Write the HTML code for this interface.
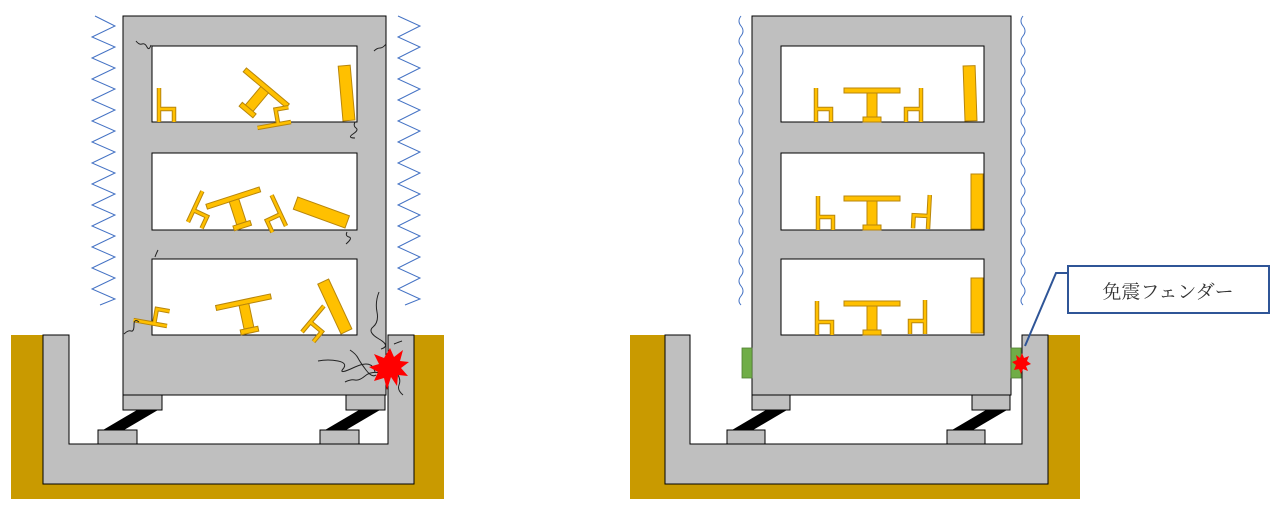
<!DOCTYPE html>
<html><head><meta charset="utf-8"><style>
html,body{margin:0;padding:0;background:#fff;width:1280px;height:508px;overflow:hidden}
svg{display:block}
</style></head><body>
<svg width="1280" height="508" viewBox="0 0 1280 508" xmlns="http://www.w3.org/2000/svg">
<defs>
 <g id="table">
  <rect x="-28" y="-34" width="56" height="5" fill="#FFC000" stroke="#B8860B" stroke-width="1"/>
  <rect x="-5" y="-29" width="10" height="24" fill="#FFC000" stroke="#B8860B" stroke-width="1"/>
  <rect x="-9" y="-5" width="18" height="5" fill="#FFC000" stroke="#B8860B" stroke-width="1"/>
 </g>
 <g id="chair">
  <path d="M0,-34 L0,0 M0,-13 L15,-13 L15,0" fill="none" stroke="#B8860B" stroke-width="4.5"/>
  <path d="M0,-34 L0,0 M0,-13 L15,-13 L15,0" fill="none" stroke="#FFC000" stroke-width="2.5"/>
 </g>
 <g id="cab">
  <rect x="0" y="-55" width="12" height="55" fill="#FFC000" stroke="#B8860B" stroke-width="1"/>
 </g>
</defs>

<!-- LEFT -->
<rect x="11" y="335" width="433" height="164" fill="#C99A00"/>
<rect x="69" y="335" width="319" height="109" fill="#fff"/>
<path d="M43,335 H69 V444 H388 V335 H414 V484 H43 Z" fill="#BFBFBF" stroke="#000" stroke-width="1"/>
<path d="M123,16 H386 V395 H123 Z M152,46 V122 H357 V46 Z M152,153 V230 H357 V153 Z M152,259 V335 H357 V259 Z" fill="#BFBFBF" fill-rule="evenodd" stroke="#000" stroke-width="1"/>
<rect x="123" y="395" width="39" height="15" fill="#BFBFBF" stroke="#000"/>
<rect x="346" y="395" width="39" height="15" fill="#BFBFBF" stroke="#000"/>
<rect x="98" y="430" width="39" height="14" fill="#BFBFBF" stroke="#000"/>
<rect x="320" y="430" width="39" height="14" fill="#BFBFBF" stroke="#000"/>
<polygon points="103,430 124,430 158,410 137,410" fill="#000"/>
<polygon points="325,430 346,430 380,410 359,410" fill="#000"/>
<polyline fill="none" stroke="#4472C4" stroke-width="1" points="95,16 115,26 92,37 115,47 92,58 115,68 92,79 115,89 92,100 115,110 92,121 115,131 92,142 115,152 92,163 115,173 92,184 115,194 92,205 115,215 92,226 115,236 92,247 115,257 92,268 115,278 92,289 115,299 100,305"/>
<polyline fill="none" stroke="#4472C4" stroke-width="1" points="398,16 420,26 398,37 420,47 398,58 420,68 398,79 420,89 398,100 420,110 398,121 420,131 398,142 420,152 398,163 420,173 398,184 420,194 398,205 420,215 398,226 420,236 398,247 420,257 398,268 420,278 398,289 420,299 405,305"/>
<!-- left furniture -->
<use href="#chair" x="159" y="122"/>
<use href="#table" transform="translate(246,112) rotate(40)"/>
<use href="#chair" transform="translate(291,122) rotate(-100)"/>
<use href="#cab" transform="translate(343,121) rotate(-5)"/>
<use href="#chair" transform="translate(188,222) rotate(25)"/>
<use href="#table" transform="translate(243,228) rotate(-18)"/>
<use href="#chair" transform="translate(286,226) rotate(-25) scale(-1,1)"/>
<rect x="0" y="-55" width="13" height="55" fill="#FFC000" stroke="#B8860B" transform="translate(345,228) rotate(-70)"/>
<use href="#chair" transform="translate(167,326) rotate(-80)"/>
<use href="#table" transform="translate(250,333) rotate(-12)"/>
<use href="#chair" transform="translate(302,332) rotate(40)"/>
<use href="#cab" transform="translate(341,334) rotate(-25)"/>
<!-- cracks -->
<g fill="none" stroke="#222" stroke-width="1">
<path d="M136,41 q3,4 6,3 t5,3 t4,-2"/>
<path d="M374,51 q3,-3 6,-3 t6,-4"/>
<path d="M355,122 q-2,4 1,6 t-3,6 t2,4"/>
<path d="M347,232 q-2,4 2,5 t-3,7"/>
<path d="M158,250 q-2,4 -3,7"/>
<path d="M124,334 q4,-4 7,-3 t3,-6 t5,-3"/>
<path d="M379,292 q-4,10 -2,20 t-4,15 t6,12 t2,10"/>
<path d="M318,361 q10,-2 20,0 t5,8 t12,-2 t20,5"/>
<path d="M350,350 q6,4 8,8 t8,12 t10,5"/>
<path d="M345,382 q6,-3 10,-2 t10,-4 t15,-3"/>
<path d="M394,344 q5,-2 8,-3"/>
<path d="M398,375 q3,5 1,10 t4,10"/>
</g>
<polygon fill="#FF0000" points="390,348 394,357 403,350 400,361 409,362 401,368 408,376 398,375 397,386 391,377 387,390 384,378 374,381 378,372 369,367 379,364 374,354 384,358" />

<!-- RIGHT -->
<rect x="630" y="335" width="450" height="164" fill="#C99A00"/>
<rect x="690" y="335" width="332" height="109" fill="#fff"/>
<path d="M665,335 H690 V444 H1022 V335 H1048 V484 H665 Z" fill="#BFBFBF" stroke="#000" stroke-width="1"/>
<path d="M752,16 H1011 V395 H752 Z M781,46 V122 H984 V46 Z M781,153 V230 H984 V153 Z M781,259 V335 H984 V259 Z" fill="#BFBFBF" fill-rule="evenodd" stroke="#000" stroke-width="1"/>
<rect x="752" y="395" width="38" height="15" fill="#BFBFBF" stroke="#000"/>
<rect x="972" y="395" width="38" height="15" fill="#BFBFBF" stroke="#000"/>
<rect x="727" y="430" width="38" height="14" fill="#BFBFBF" stroke="#000"/>
<rect x="947" y="430" width="38" height="14" fill="#BFBFBF" stroke="#000"/>
<polygon points="732,430 753,430 787,410 766,410" fill="#000"/>
<polygon points="952,430 973,430 1007,410 986,410" fill="#000"/>
<rect x="742" y="348" width="10" height="30" fill="#70AD47" stroke="#507E32" stroke-width="0.8"/>
<rect x="1011" y="348" width="10" height="30" fill="#70AD47" stroke="#507E32" stroke-width="0.8"/>
<path fill="none" stroke="#4472C4" stroke-width="1" d="M741,16 q-4,5 0,10 q4,5 0,10 q-4,5 0,10 q4,5 0,10 q-4,5 0,10 q4,5 0,10 q-4,5 0,10 q4,5 0,10 q-4,5 0,10 q4,5 0,10 q-4,5 0,10 q4,5 0,10 q-4,5 0,10 q4,5 0,10 q-4,5 0,10 q4,5 0,10 q-4,5 0,10 q4,5 0,10 q-4,5 0,10 q4,5 0,10 q-4,5 0,10 q4,5 0,10 q-4,5 0,10 q4,5 0,10 q-4,5 0,10 q4,5 0,10 q-4,5 0,10 q4,5 0,10 q-4,5 0,9"/>
<path fill="none" stroke="#4472C4" stroke-width="1" d="M1023,16 q-4,5 0,10 q4,5 0,10 q-4,5 0,10 q4,5 0,10 q-4,5 0,10 q4,5 0,10 q-4,5 0,10 q4,5 0,10 q-4,5 0,10 q4,5 0,10 q-4,5 0,10 q4,5 0,10 q-4,5 0,10 q4,5 0,10 q-4,5 0,10 q4,5 0,10 q-4,5 0,10 q4,5 0,10 q-4,5 0,10 q4,5 0,10 q-4,5 0,10 q4,5 0,10 q-4,5 0,10 q4,5 0,10 q-4,5 0,10 q4,5 0,10 q-4,5 0,10 q4,5 0,10 q-4,5 0,9"/>
<!-- right furniture -->
<use href="#chair" x="816" y="122"/>
<use href="#table" x="872" y="122"/>
<use href="#chair" transform="translate(921,122) scale(-1,1)"/>
<use href="#cab" transform="translate(965,121) rotate(-2)"/>
<use href="#chair" x="818" y="230"/>
<use href="#table" x="872" y="230"/>
<use href="#chair" transform="translate(928,229) rotate(3) scale(-1,1)"/>
<use href="#cab" x="971" y="229"/>
<use href="#chair" x="817" y="335"/>
<use href="#table" x="872" y="335"/>
<use href="#chair" transform="translate(925,334) scale(-1,1)"/>
<use href="#cab" x="971" y="333"/>
<polygon fill="#FF0000" points="1022,353 1024,358 1029,356 1027,361 1031,364 1026,366 1028,371 1023,369 1021,374 1019,369 1014,370 1016,365 1012,362 1017,360 1016,355 1020,358"/>
<polyline fill="none" stroke="#2F5597" stroke-width="2" points="1068,273 1056,273 1025,346"/>
<rect x="1068" y="266" width="201" height="47" fill="#fff" stroke="#2F5597" stroke-width="2"/>
<text x="1168" y="298" text-anchor="middle" font-family="'Liberation Serif','Noto Serif CJK SC','Noto Sans CJK JP',serif" font-size="19" fill="#333">免震フェンダー</text>
</svg>
</body></html>
